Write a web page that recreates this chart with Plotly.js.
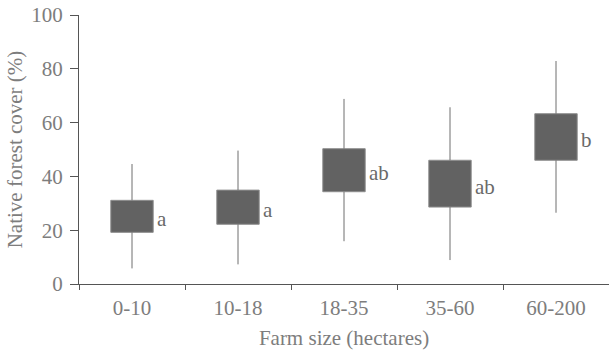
<!DOCTYPE html>
<html>
<head>
<meta charset="utf-8">
<script src="https://cdn.plot.ly/plotly-3.0.1.min.js"></script>
<style>html,body{margin:0;padding:0;background:#fff;}#chart{width:609px;height:350px;}</style>
</head>
<body>
<div id="chart"></div>
<script>
var categories = ["0-10", "10-18", "18-35", "35-60", "60-200"];
var whiskerLow = [5.8, 7.3, 15.9, 8.9, 26.5];
var boxLow = [19.2, 22.2, 34.3, 28.6, 46.0];
var boxHigh = [31.1, 34.9, 50.3, 46.0, 63.3];
var whiskerHigh = [44.6, 49.6, 68.8, 65.7, 82.9];
var groupLetters = ["a", "a", "ab", "ab", "b"];

var wx = [], wy = [];
for (var i = 0; i < categories.length; i++) {
  wx.push(categories[i], categories[i], null, categories[i], categories[i], null);
  wy.push(whiskerLow[i], boxLow[i], null, boxHigh[i], whiskerHigh[i], null);
}

var font = "'Liberation Serif'";
var txt = "#7d7d7d";

var traces = [
  {
    type: "scatter", mode: "lines", x: wx, y: wy,
    line: {color: "#6e6e6e", width: 1}, hoverinfo: "skip", showlegend: false
  },
  {
    type: "bar", x: categories,
    y: boxHigh.map(function (v, i) { return v - boxLow[i]; }),
    base: boxLow, width: 0.4,
    marker: {color: "#626262", line: {color: "#8e8e8e", width: 1}},
    showlegend: false
  }
];

var annotations = categories.map(function (c, i) {
  return {
    x: c, y: (boxLow[i] + boxHigh[i]) / 2, xref: "x", yref: "y",
    text: groupLetters[i], showarrow: false, xanchor: "left", yanchor: "middle",
    xshift: 23, yshift: -3,
    font: {family: font, size: 21, color: "#6a6a6a"}
  };
});

var layout = {
  width: 609, height: 350,
  margin: {l: 79, r: 0, t: 15, b: 66},
  paper_bgcolor: "#fff", plot_bgcolor: "#fff",
  font: {family: font, size: 21, color: txt},
  xaxis: {
    type: "category", tickson: "boundaries",
    showline: true, linecolor: "#555", linewidth: 1,
    ticks: "outside", ticklen: 5, tickcolor: "#555", tickwidth: 1,
    ticklabelstandoff: 5,
    showgrid: false, zeroline: false, automargin: false,
    tickfont: {family: font, size: 21, color: txt},
    title: {text: "Farm size (hectares)", font: {family: font, size: 21, color: txt}, standoff: 12}
  },
  yaxis: {
    range: [0, 100], dtick: 20,
    showline: true, linecolor: "#555", linewidth: 1,
    ticks: "outside", ticklen: 8, tickcolor: "#555", tickwidth: 1,
    ticklabelstandoff: 3,
    showgrid: false, zeroline: false, automargin: false,
    tickfont: {family: font, size: 21, color: txt},
    title: {text: "Native forest cover (%)", font: {family: font, size: 21, color: txt}, standoff: 2}
  },
  annotations: annotations,
  bargap: 0.6
};

Plotly.newPlot("chart", traces, layout, {displayModeBar: false, staticPlot: true});
</script>
</body>
</html>
